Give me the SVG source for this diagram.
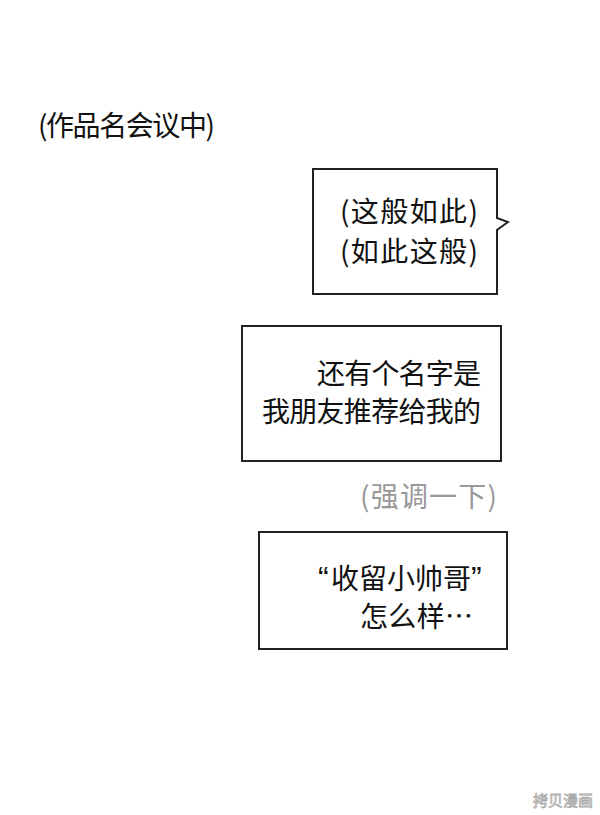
<svg xmlns="http://www.w3.org/2000/svg" width="600" height="815" viewBox="0 0 600 815">
<style>
.t{font-family:"Noto Sans CJK SC","Noto Sans",sans-serif;font-size:28px;fill:#111}
.q{font-family:"Liberation Sans",sans-serif;font-size:32px}
.g{fill:#999}
.box{fill:#fff;stroke:#222;stroke-width:2}
.wm{font-family:"Noto Sans CJK SC",sans-serif;font-size:15px;fill:#fff;stroke:#aaa;stroke-width:0.8}
</style>
<rect width="600" height="815" fill="#fff"/>
<g id="caption">
<text class="t" x="38" y="136" font-size="27" textLength="177" lengthAdjust="spacing">(作品名会议中)</text>
</g>
<g id="bubble1">
<path class="box" d="M313,169 H497 V218 L508,222 L497,230 V294 H313 Z"/>
<text class="t" x="340" y="222" textLength="138" lengthAdjust="spacing">(这般如此)</text>
<text class="t" x="340" y="262" textLength="138" lengthAdjust="spacing">(如此这般)</text>
</g>
<g id="bubble2">
<rect class="box" x="242" y="326" width="259" height="135"/>
<text class="t" x="317" y="384" textLength="164" lengthAdjust="spacing">还有个名字是</text>
<text class="t" x="262" y="422" textLength="219" lengthAdjust="spacing">我朋友推荐给我的</text>
</g>
<g id="aside">
<text class="t g" x="360" y="507" textLength="137" lengthAdjust="spacing">(强调一下)</text>
</g>
<g id="bubble3">
<rect class="box" x="259" y="532" width="248" height="117"/>
<text class="t" y="589"><tspan class="q" x="318">“</tspan><tspan x="331">收留小帅哥</tspan><tspan class="q" x="471">”</tspan></text>
<text class="t" x="360" y="627" textLength="113" lengthAdjust="spacing">怎么样…</text>
</g>
<g id="watermark">
<text class="wm" x="533" y="806">拷贝漫画</text>
</g>
<g id="connectors"></g>
</svg>
